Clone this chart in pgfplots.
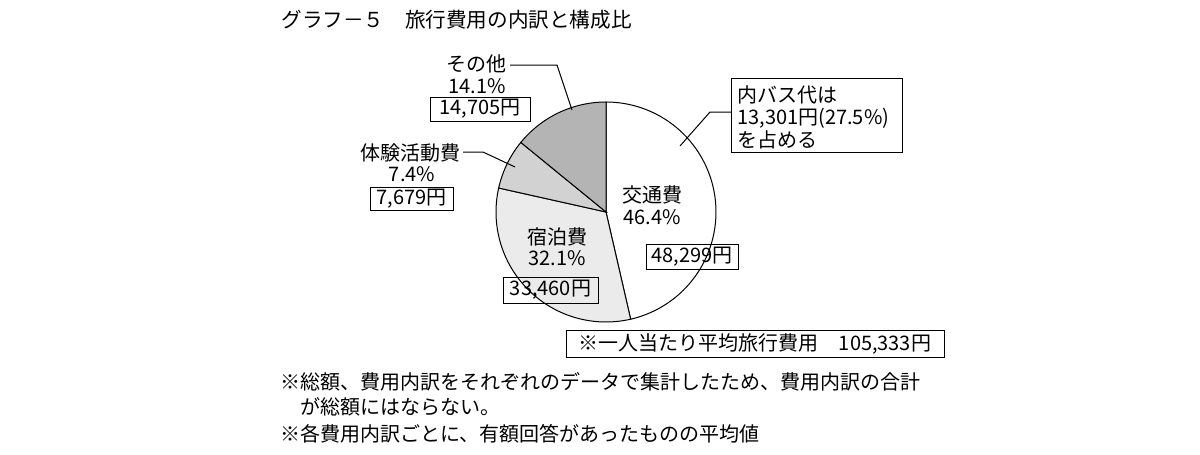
\documentclass[border=0pt]{standalone}
\usepackage{fontspec}
\setmainfont{Noto Sans CJK JP}
\usepackage{pgfplots}
\pgfplotsset{compat=1.18}
\definecolor{cA}{HTML}{FFFFFF}
\definecolor{cB}{HTML}{EBEBEB}
\definecolor{cC}{HTML}{D2D2D2}
\definecolor{cD}{HTML}{B4B4B4}
% shares (percent), clockwise from 12 o'clock
\def\pA{46.4}\def\pB{32.1}\def\pC{7.4}\def\pD{14.1}
\pgfmathsetmacro\aO{90}
\pgfmathsetmacro\aA{\aO-3.6*\pA}
\pgfmathsetmacro\aB{\aA-3.6*\pB}
\pgfmathsetmacro\aC{\aB-3.6*\pC}
\pgfmathsetmacro\aD{\aC-3.6*\pD}
\begin{document}
\begin{tikzpicture}[x=0.5pt,y=-0.5pt,
  every node/.style={inner sep=0pt, font=\fontsize{10}{12}\selectfont}]
\useasboundingbox (0,0) rectangle (1200,455);
\begin{axis}[at={(303pt,-106pt)}, anchor=center, scale only axis,
  width=110pt, height=110pt, xmin=-1, xmax=1, ymin=-1, ymax=1,
  hide axis, clip=false]
\addplot[fill=cA, draw=black, line width=0.5pt, domain=\aA:\aO, samples=80, variable=\t] ({cos(\t)},{sin(\t)}) -- (axis cs:0,0) -- cycle;
\addplot[fill=cB, draw=black, line width=0.5pt, domain=\aB:\aA, samples=60, variable=\t] ({cos(\t)},{sin(\t)}) -- (axis cs:0,0) -- cycle;
\addplot[fill=cC, draw=black, line width=0.5pt, domain=\aC:\aB, samples=20, variable=\t] ({cos(\t)},{sin(\t)}) -- (axis cs:0,0) -- cycle;
\addplot[fill=cD, draw=black, line width=0.5pt, domain=\aD:\aC, samples=30, variable=\t] ({cos(\t)},{sin(\t)}) -- (axis cs:0,0) -- cycle;
\end{axis}
% title
\node[anchor=west, font=\fontsize{10.3}{12}\selectfont] at (281,20) {グラフ－５　旅行費用の内訳と構成比};
% その他
\node at (476,64) {その他};
\node at (477,86) {14.1\%};
\node[draw, line width=0.5pt, minimum width=50pt, minimum height=12pt] at (480,109) {14,705円};
\draw[line width=0.5pt] (510,65) -- (557,65) -- (572,110);
% 体験活動費
\node at (410,153) {体験活動費};
\node at (412,174) {7.4\%};
\node[draw, line width=0.5pt, minimum width=41.5pt, minimum height=11.5pt] at (411.5,198.5) {7,679円};
\draw[line width=0.5pt] (463,152) -- (483,152) -- (515,167);
% 交通費
\node at (652,195) {交通費};
\node at (652,217) {46.4\%};
\node[draw, line width=0.5pt, minimum width=46pt, minimum height=12.5pt] at (692,256.5) {48,299円};
% 宿泊費
\node at (557,237) {宿泊費};
\node at (557,258) {32.1\%};
\node[draw, line width=0.5pt, minimum width=47.5pt, minimum height=13pt] at (550.5,290) {33,460円};
% callout
\draw[line width=0.5pt] (731,78) rectangle (902,152);
\node[anchor=west] at (737,95) {内バス代は};
\node[anchor=west] at (737,118) {13,301円(27.5\%)};
\node[anchor=west] at (737,140) {を占める};
\draw[line width=0.5pt] (731,112) -- (710,112) -- (680,146);
% total
\draw[line width=0.5pt] (566,330) rectangle (944,357);
\node at (755,344) {※一人当たり平均旅行費用　105,333円};
% notes
\node[anchor=west] at (280,382) {※総額、費用内訳をそれぞれのデータで集計したため、費用内訳の合計};
\node[anchor=west] at (300,407) {が総額にはならない。};
\node[anchor=west] at (280,434) {※各費用内訳ごとに、有額回答があったものの平均値};
\end{tikzpicture}
\end{document}
